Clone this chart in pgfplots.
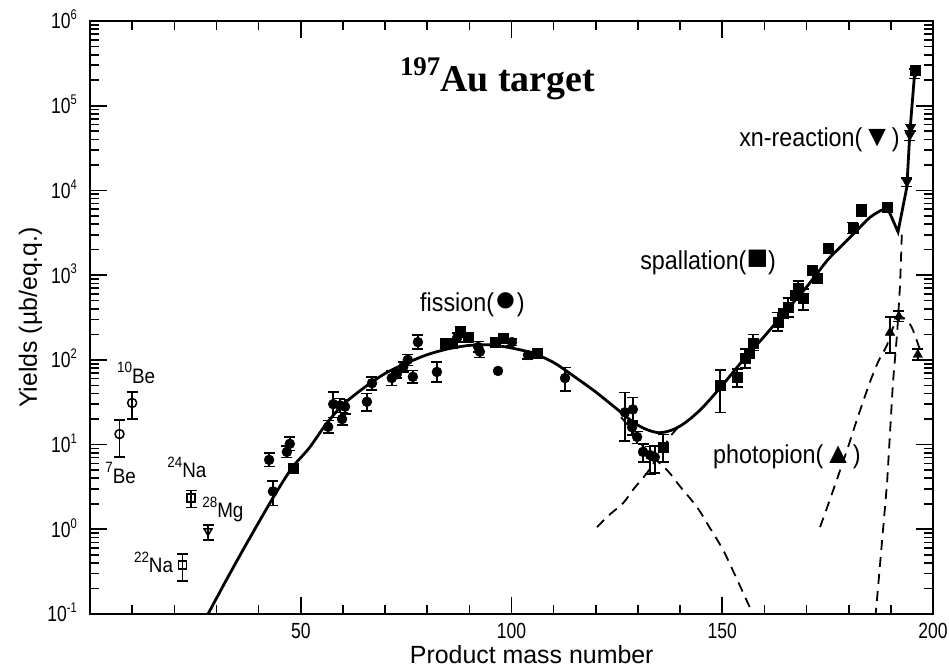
\documentclass[border=0pt]{standalone}
\usepackage{fontspec}
\setmainfont{Liberation Sans}
\newfontfamily\titleserif{Liberation Serif}
\usepackage{graphicx}
\usepackage{pgfplots}
\pgfplotsset{compat=1.18}

% condensed tick label 10^n and small superscripts
\newcommand{\tenpow}[1]{\scalebox{0.8}[1]{10\raisebox{0.42em}{\fontsize{14}{14}\selectfont #1}}}
\newcommand{\narrow}[1]{\scalebox{0.8}[1]{#1}}
\newcommand{\isotope}[1]{\raisebox{0.5em}{\fontsize{15}{15}\selectfont #1}}
\newcommand{\lbl}[1]{\scalebox{0.9}[1]{#1}}

\begin{document}
\begin{tikzpicture}
\begin{axis}[
    scale only axis,
    width=843bp, height=593bp,
    xmin=0, xmax=200,
    ymode=log, ymin=0.1, ymax=1e6,
    log basis y=10,
    xtick={50,100,150,200},
    minor xtick={10,20,...,190},
    major tick length=17bp, minor tick length=9bp,
    every tick/.style={black, line width=1.6bp},
    axis line style={black, line width=2.2bp},
    xticklabel={\narrow{\pgfmathprintnumber[assume math mode=true]{\tick}}},
    yticklabel={\tenpow{\pgfmathprintnumber[assume math mode=true]{\tick}}},
    ticklabel style={font=\fontsize{22}{22}\selectfont, inner sep=0pt},
    xticklabel style={anchor=base, yshift=-25bp},
    yticklabel style={anchor=base east, xshift=-13bp, yshift=-8bp},
    xlabel={Product mass number},
    ylabel={Yields (µb/eq.q.)},
    label style={font=\fontsize{25}{25}\selectfont, inner sep=0pt},
    xlabel style={at={(axis description cs:0.524,-0.0843)}, anchor=base},
    ylabel style={at={(axis description cs:-0.063,0.5)}, anchor=base},
    error bars/error bar style={line width=1.5bp, solid},
    error bars/error mark options={rotate=90, line width=1.5bp, mark size=5.5bp, solid},
]

% total yield curve
\addplot[line width=2.8bp, smooth, tension=0.5] table {
x y
28 0.1
32 0.234
36 0.537
40 1.20
44 2.63
48 5.37
52 9.1
56 17.4
60 29.5
65 46.8
70 69
75 91
80 115
85 135
90 148
95 150
100 138
105 120
110 93
115 63
120 41.7
125 26.3
129 18.2
132 15.1
135 13.8
138 14.8
141 17.8
145 26.3
150 50
155 100
160 190
165 372
170 724
175 1510
178 2140
182 3390
185 4790
188 5890
189.5 5750
};
\addplot[line width=2.8bp] table {
x y
189.5 5750
191.7 3240
193.8 11000
194.5 47900
195.7 263000
};

% component curves
\addplot[line width=1.8bp, dash pattern=on 10bp off 7bp, smooth] table {
x y
126 21
128 16
132 8.5
136.9 5
140 3.2
144 1.83
147 1.05
150.2 0.57
153 0.29
156.6 0.118
157.3 0.1
};
\addplot[line width=1.8bp, dash pattern=on 10bp off 7bp, smooth] table {
x y
120.3 1.06
123 1.45
126.5 2.04
129 3.0
132.1 4.6
135 7.6
137.6 12.3
140 17
};
\addplot[line width=1.8bp, dash pattern=on 10bp off 7bp, smooth] table {
x y
173.2 1.06
176 2.6
179.6 8.6
182 20
185 54
187 95
189.1 150
190.5 240
192 320
193.5 300
195 240
196.9 132
};
\addplot[line width=1.8bp, dash pattern=on 10bp off 7bp] table {
x y
192.6 3000
192.2 794
191.5 209
190.5 54
189.1 3.5
186.7 0.146
186.4 0.1
};

% fission (filled circles)
\addplot[only marks, mark=*, mark size=5bp,
    error bars/.cd, y dir=both, y explicit]
table[x=x, y=y, y error plus=ep, y error minus=em] {
x y ep em
42.5 6.6 1.3 1.1
43.4 2.8 0.9 0.9
46.7 8.2 1.4 1.2
47.4 10.2 2.0 1.7
56.5 16.2 3.0 2.5
57.7 30 12 9
59.3 29 6 5
59.8 20 4 3
60.5 28 6 5
65.7 32 8 7
66.9 53 10 9
71.6 61 14 11
72.8 68 8 7
74.3 82 12 10
75.4 100 16 14
76.6 63 12 10
77.8 162 35 28
82.3 72 22 17
87.1 182 25 20
92.1 142 22 18
92.5 125 22 18
100.1 162 15 15
103.9 114 12 12
112.7 61 20 18
126.9 24 17 13
128.8 26 10 8
128.6 16 3 3
129.8 12.3 2 2
131.2 8.2 2 2
132.9 7.5 2 3
134 7.1 2.5 2.5
};
\addplot[only marks, mark=*, mark size=5bp] table {
x y
96.8 74
};

% spallation (filled squares)
\addplot[only marks, mark=square*, mark size=5bp,
    error bars/.cd, y dir=both, y explicit]
table[x=x, y=y, y error plus=ep, y error minus=em] {
x y ep em
48.2 5.3 0.6 0.6
87.8 214 30 30
136 9.2 4 3
149.5 50 26 26
153.5 63 15 15
155.4 105 30 25
157.3 159 40 30
163.2 280 80 60
165.6 420 120 100
168 700 150 150
169.2 540 150 150
181 3600 600 500
183 5800 900 800
};
\addplot[only marks, mark=square*, mark size=5bp] table {
x y
84.2 158
85.9 158
89.7 187
96.1 162
98 182
106 120
156.4 120
164.4 355
167.3 584
171.3 1150
172.5 930
175.1 2100
189.1 6400
195.7 263000
};

% xn-reaction (filled down triangles)
\addplot[only marks, mark=triangle*, mark size=5.5bp, mark options={rotate=180},
    error bars/.cd, y dir=both, y explicit]
table[x=x, y=y, y error plus=ep, y error minus=em] {
x y ep em
193.8 12600 1500 1500
194.5 45000 6000 6000
194.7 55000 5000 5000
195.7 240000 30000 30000
};

% photopion (filled up triangles)
\addplot[only marks, mark=triangle*, mark size=5.5bp,
    error bars/.cd, y dir=both, y explicit]
table[x=x, y=y, y error plus=ep, y error minus=em] {
x y ep em
189.8 210 110 90
191.9 325 50 40
196.4 115 20 15
};

% light fragments (open symbols)
\addplot[only marks, mark=o, mark size=4.5bp, mark options={line width=1.5bp},
    error bars/.cd, y dir=both, y explicit]
table[x=x, y=y, y error plus=ep, y error minus=em] {
x y ep em
7 13.3 6.2 6.2
10 31 11 11
};
\addplot[only marks, mark=square, mark size=4bp, mark options={line width=1.5bp},
    error bars/.cd, y dir=both, y explicit]
table[x=x, y=y, y error plus=ep, y error minus=em] {
x y ep em
24 2.35 0.5 0.55
22 0.38 0.13 0.135
};
\addplot[only marks, mark=triangle, mark size=4.5bp, mark options={rotate=180, line width=1.5bp},
    error bars/.cd, y dir=both, y explicit]
table[x=x, y=y, y error plus=ep, y error minus=em] {
x y ep em
28 0.95 0.17 0.2
};

% annotations
\node[anchor=base west, inner sep=0pt, font=\titleserif\bfseries\fontsize{38}{38}\selectfont]
    at (axis cs:73.5,1.46e5) {\raisebox{0.42em}{\fontsize{27}{27}\selectfont 197}Au target};
\node[anchor=base west, inner sep=0pt, font=\fontsize{26}{26}\selectfont]
    at (axis cs:78.3,368) {\lbl{fission(}{\fontsize{38}{38}\selectfont ●}\lbl{)}};
\node[anchor=base west, inner sep=0pt, font=\fontsize{26}{26}\selectfont]
    at (axis cs:130.5,1150) {\lbl{spallation(}{\fontsize{36}{36}\selectfont ■}\lbl{)}};
\node[anchor=base west, inner sep=0pt, font=\fontsize{26}{26}\selectfont]
    at (axis cs:154,32600) {\lbl{xn-reaction(}{\fontsize{30}{30}\selectfont ▼}\lbl{)}};
\node[anchor=base west, inner sep=0pt, font=\fontsize{26}{26}\selectfont]
    at (axis cs:147.8,5.9) {\lbl{photopion(}{\fontsize{30}{30}\selectfont ▲}\lbl{)}};
\node[anchor=base west, inner sep=0pt, font=\fontsize{21}{21}\selectfont]
    at (axis cs:6.4,53) {\lbl{\isotope{10}Be}};
\node[anchor=base west, inner sep=0pt, font=\fontsize{21}{21}\selectfont]
    at (axis cs:3.6,3.5) {\lbl{\isotope{7}Be}};
\node[anchor=base west, inner sep=0pt, font=\fontsize{21}{21}\selectfont]
    at (axis cs:18.3,4.04) {\lbl{\isotope{24}Na}};
\node[anchor=base west, inner sep=0pt, font=\fontsize{21}{21}\selectfont]
    at (axis cs:26.6,1.36) {\lbl{\isotope{28}Mg}};
\node[anchor=base west, inner sep=0pt, font=\fontsize{21}{21}\selectfont]
    at (axis cs:10.4,0.305) {\lbl{\isotope{22}Na}};
\end{axis}
\path (current axis.south west) ++(-90bp,-54bp) rectangle ([xshift=16bp,yshift=21bp]current axis.north east);
\end{tikzpicture}
\end{document}
